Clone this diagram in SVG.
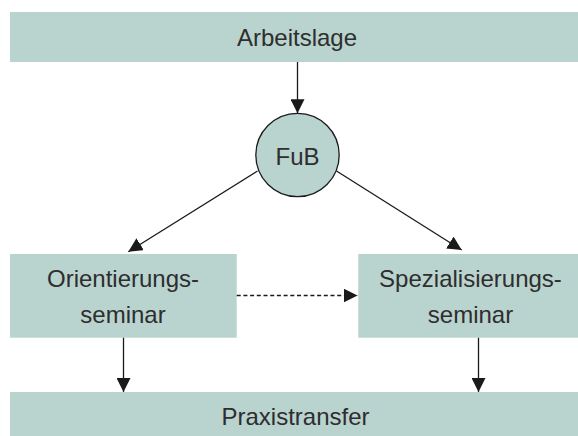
<svg xmlns="http://www.w3.org/2000/svg" width="578" height="436" viewBox="0 0 578 436">
<defs>
<style>
.box{fill:#b9d3cf;}
.t{font-family:"Liberation Sans",Arial,sans-serif;font-size:24px;fill:#2e2e2e;text-anchor:middle;}
.c{stroke:#1a1a1a;stroke-width:1.3;fill:none;}
</style>
<marker id="ah" markerWidth="14" markerHeight="14" refX="14" refY="7" orient="auto" markerUnits="userSpaceOnUse">
<path d="M0,0 L14,7 L0,14 Z" fill="#1a1a1a"/>
</marker>
</defs>
<rect width="578" height="436" fill="#ffffff"/>
<g id="arbeitslage"><rect class="box" x="10" y="12" width="568" height="50"/><text class="t" x="297" y="46">Arbeitslage</text></g>
<g id="fub"><circle cx="297.5" cy="155" r="41.7" fill="#b9d3cf" stroke="#1a1a1a" stroke-width="1.3"/><text class="t" x="297.5" y="164.5">FuB</text></g>
<g id="orientierung"><rect class="box" x="10" y="254" width="226.7" height="83.7"/><text class="t" x="123" y="287">Orientierungs-</text><text class="t" x="123" y="323">seminar</text></g>
<g id="spezialisierung"><rect class="box" x="358.3" y="254" width="219.7" height="83.7"/><text class="t" x="470.5" y="287">Spezialisierungs-</text><text class="t" x="470.5" y="323">seminar</text></g>
<g id="praxistransfer"><rect class="box" x="10" y="392" width="568" height="44"/><text class="t" x="295.5" y="424.5">Praxistransfer</text></g>
<g id="connectors">
<line class="c" x1="297.5" y1="62" x2="297.5" y2="113.3" marker-end="url(#ah)"/>
<line class="c" x1="257.5" y1="171" x2="128.3" y2="251.7" marker-end="url(#ah)"/>
<line class="c" x1="336.5" y1="171" x2="461.7" y2="250" marker-end="url(#ah)"/>
<line class="c" x1="236.7" y1="295.5" x2="357.5" y2="295.5" stroke-dasharray="4,2.7" marker-end="url(#ah)"/>
<line class="c" x1="123.5" y1="337.7" x2="123.5" y2="392" marker-end="url(#ah)"/>
<line class="c" x1="478.5" y1="337.7" x2="478.5" y2="392" marker-end="url(#ah)"/>
</g>
</svg>
